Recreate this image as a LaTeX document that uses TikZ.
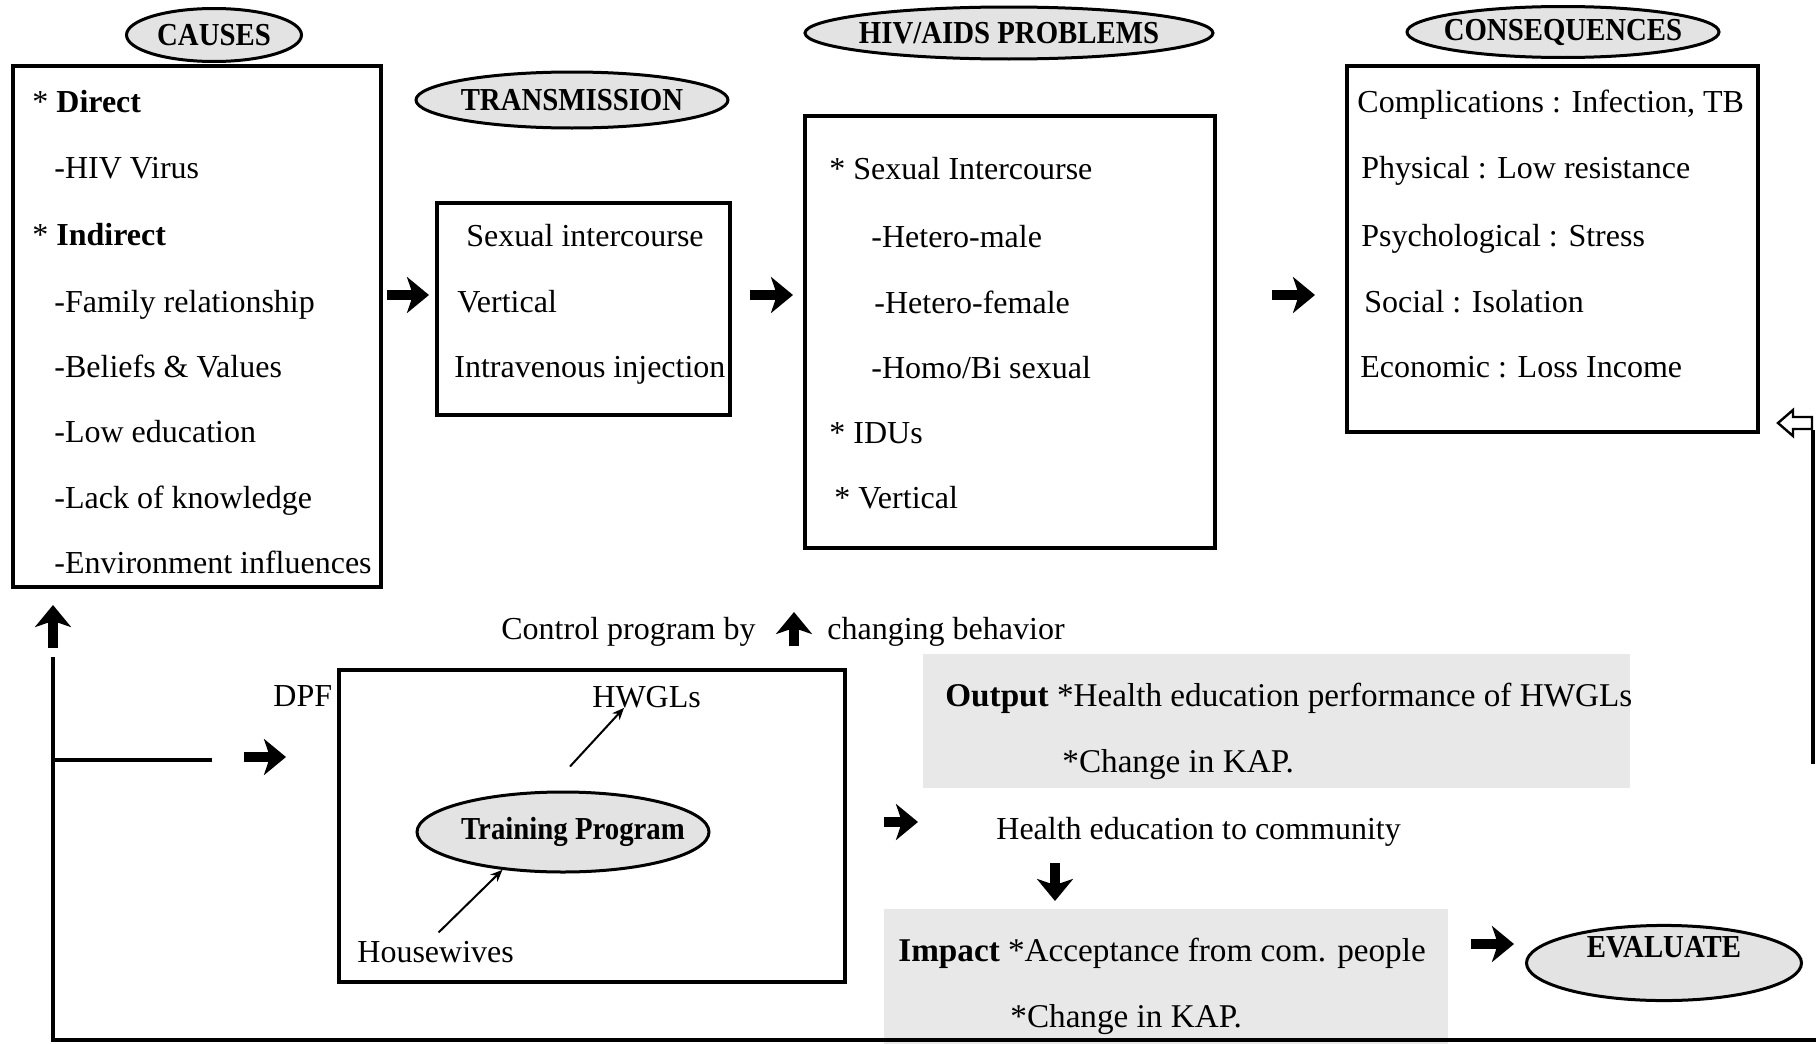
\documentclass[tikz,border=0pt]{standalone}
\usepackage{fontspec}
\setmainfont{Liberation Serif}
\newfontfamily\tagfont[FakeStretch=0.9]{Liberation Serif}
\usetikzlibrary{shapes.geometric,arrows.meta}

\tikzset{
  panel/.style={draw, line width=2.2pt, inner sep=0pt},
  tag/.style={ellipse, draw, line width=1.5pt, fill=gray!22, inner ysep=0pt, inner xsep=-12pt,
    font=\tagfont\bfseries\fontsize{16}{18}\selectfont},
  txt/.style={anchor=base west, inner sep=0pt, font=\fontsize{16}{18}\selectfont},
  result/.style={txt, font=\fontsize{16.6}{18}\selectfont},
  shade/.style={fill=gray!18, inner sep=0pt},
  fatarrow/.style={line width=5pt, -{Stealth[length=11pt,width=18pt,inset=3pt]}},
  thinarrow/.style={line width=1pt, -{Stealth[length=6pt,width=5pt]}},
  loopline/.style={line width=2pt},
}

\begin{document}
\begin{tikzpicture}[x=0.5pt, y=-0.5pt]
  \useasboundingbox (0,0) rectangle (1816,1044);

  % shaded result boxes
  \node[shade, minimum width=353.5pt, minimum height=67pt] (output) at (1276.5,721) {};
  \node[shade, minimum width=282pt, minimum height=67.5pt] (impact) at (1166,976.5) {};

  % the four boxes of the upper row
  \node[panel, minimum width=184pt, minimum height=260.5pt] (causes) at (197,326.5) {};
  \node[panel, minimum width=146.5pt, minimum height=106pt] (trans) at (583.5,309) {};
  \node[panel, minimum width=205pt, minimum height=216pt] (problems) at (1010,332) {};
  \node[panel, minimum width=205.5pt, minimum height=183pt] (cons) at (1552.5,249) {};

  % headings
  \node[tag, minimum width=87.5pt, minimum height=26.5pt] (causestag) at (214,35) {CAUSES};
  \node[tag, minimum width=156pt, minimum height=28pt] (transtag) at (572,100) {TRANSMISSION};
  \node[tag, minimum width=204pt, minimum height=26pt] (problemstag) at (1009,33) {HIV/AIDS PROBLEMS};
  \node[tag, minimum width=156pt, minimum height=25.5pt] (constag) at (1563,32) {CONSEQUENCES};

  % causes
  \node[txt] (c1) at (32,112) {*~\textbf{Direct}};
  \node[txt] (c2) at (54,178) {-HIV Virus};
  \node[txt] (c3) at (32,245) {*~\textbf{Indirect}};
  \node[txt] (c4) at (54,312) {-Family relationship};
  \node[txt] (c5) at (54,377) {-Beliefs \& Values};
  \node[txt] (c6) at (54,442) {-Low education};
  \node[txt] (c7) at (54,508) {-Lack of knowledge};
  \node[txt] (c8) at (54,573) {-Environment influences};

  % transmission
  \node[txt] (t1) at (466,246) {Sexual intercourse};
  \node[txt] (t2) at (457,312) {Vertical};
  \node[txt] (t3) at (454,377) {Intravenous injection};

  % problems
  \node[txt] (p1) at (829,179) {*~Sexual Intercourse};
  \node[txt] (p2) at (871,247) {-Hetero-male};
  \node[txt] (p3) at (874,313) {-Hetero-female};
  \node[txt] (p4) at (871,378) {-Homo/Bi sexual};
  \node[txt] (p5) at (829,443) {*~IDUs};
  \node[txt] (p6) at (834,508) {*~Vertical};

  % consequences
  \node[txt] (q1) at (1357,112) {Complications : Infection, TB};
  \node[txt] (q2) at (1361,178) {Physical : Low resistance};
  \node[txt] (q3) at (1361,246) {Psychological : Stress};
  \node[txt] (q4) at (1364,312) {Social : Isolation};
  \node[txt] (q5) at (1360,377) {Economic : Loss Income};

  \draw[fatarrow] (387,295) -- (429,295);
  \draw[fatarrow] (750,295) -- (793,295);
  \draw[fatarrow] (1272,295) -- (1315,295);

  % control program
  \node[txt] (ctrl1) at (501,639) {Control program by};
  \node[txt] (ctrl2) at (827,639) {changing behavior};
  \draw[fatarrow] (794,646) -- (794,612);

  % training
  \node[panel, minimum width=253pt, minimum height=156pt] (training) at (592,826) {};
  \node[txt] (dpf) at (273,706) {DPF};
  \node[txt] (hwgl) at (592,707) {HWGLs};
  \node[txt] (house) at (357,962) {Housewives};
  \node[tag, minimum width=146pt, minimum height=40pt] (program) at (563,832) {\hspace{10pt}Training Program};
  \draw[thinarrow] ([shift={(7,-24)}]program.north) -- ([xshift=16pt]hwgl.south west);
  \draw[thinarrow] ([shift={(3,-8)}]house.north) -- (program.212);

  % output and impact
  \node[result] (out1) at (945,706) {\textbf{Output} *Health education performance of HWGLs};
  \node[result] (out2) at (1062,772) {*Change in KAP.};
  \node[txt] (health) at (996,839) {Health education to community};
  \node[result] (imp1) at (898,961) {\textbf{Impact} *Acceptance from com. people};
  \node[result] (imp2) at (1010,1027) {*Change in KAP.};
  \node[tag, minimum width=137.5pt, minimum height=36.5pt, text depth=16pt] (evaluate) at (1664,963) {EVALUATE};

  \draw[fatarrow] (884,822) -- (918,822);
  \draw[fatarrow] (1055,863) -- (1055,901);
  \draw[fatarrow] (1471,944) -- (1514,944);

  % feedback loop
  \coordinate (loopa) at (53,657);
  \coordinate (loopb) at (53,1040);
  \coordinate (loopc) at (1816,1040);
  \coordinate (branch) at (212,760);
  \draw[loopline] (loopa) -- (loopb) -- (loopc);
  \draw[loopline] (loopa |- branch) -- (branch);
  \draw[fatarrow] (53,648) -- (53,605);
  \draw[fatarrow] (244,757) -- (286,757);
  \draw[loopline] (1813,430) -- (1813,764);
  \draw[line width=1.2pt, fill=white] (1778,423) -- (1793,410) -- (1793,417) -- (1812,417)
    -- (1812,429) -- (1793,429) -- (1793,436) -- cycle;
\end{tikzpicture}
\end{document}
